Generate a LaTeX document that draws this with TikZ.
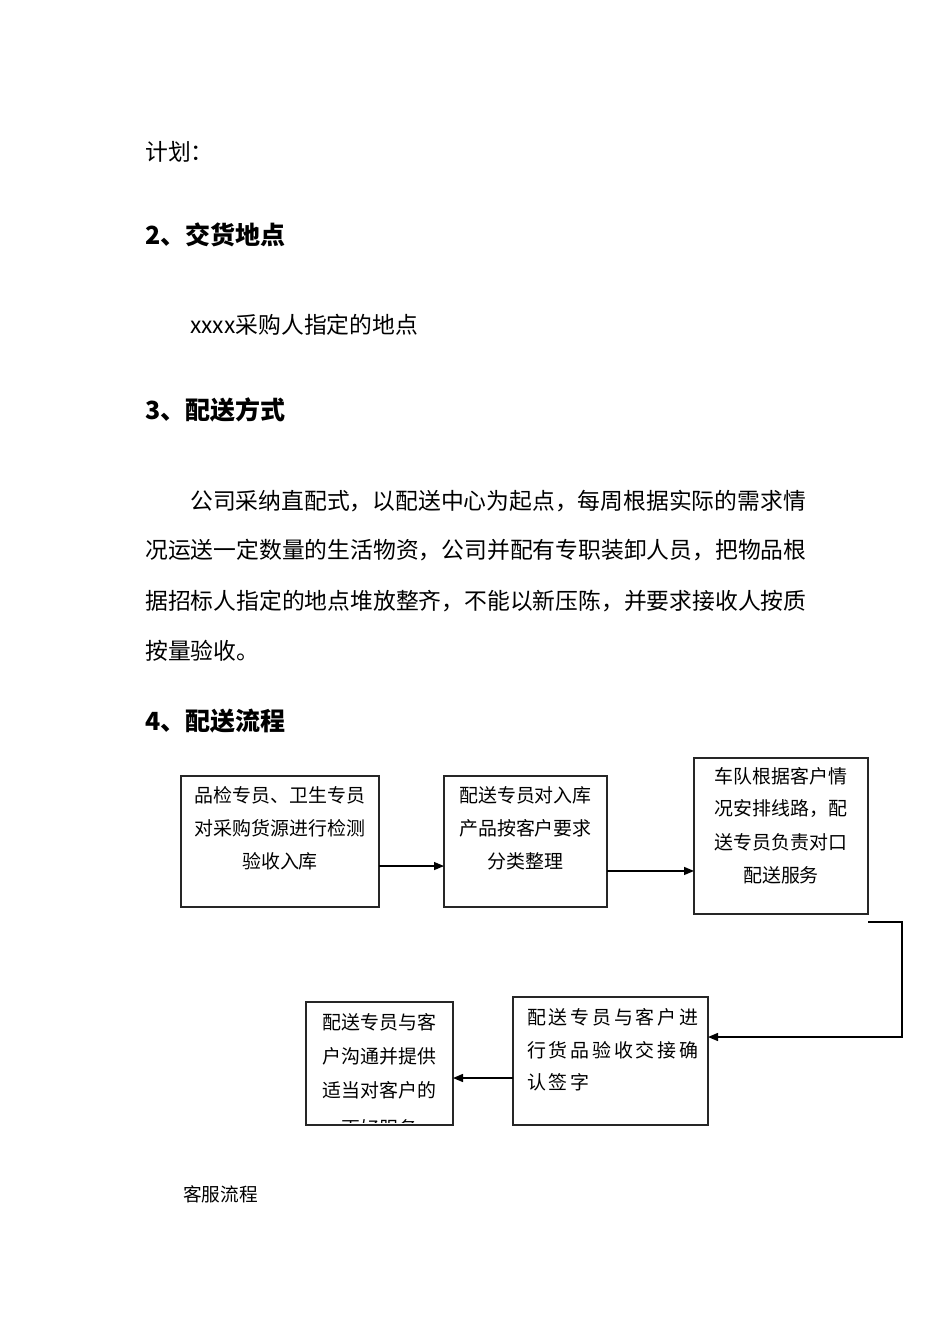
\documentclass[tikz,border=0pt]{standalone}
\usepackage{fontspec}
\newfontfamily\cjk{Noto Sans CJK SC}
\usetikzlibrary{arrows.meta,calc}
\newcommand\kk{\kern2.1pt}
\begin{document}
\begin{tikzpicture}[x=0.75pt,y=-0.75pt,
  body/.style={font=\cjk\fontsize{17.1pt}{20pt}\selectfont, anchor=west, inner sep=0pt},
  head/.style={font=\cjk\bfseries\fontsize{18.75pt}{22pt}\selectfont, anchor=west, inner sep=0pt},
  boxtxt/.style={font=\cjk\fontsize{14.2pt}{17pt}\selectfont, inner sep=0pt},
  small/.style={font=\cjk\fontsize{14pt}{17pt}\selectfont, anchor=west, inner sep=0pt},
  flowbox/.style={draw=black!85, line width=1.1pt, inner sep=0pt, outer sep=0pt},
  arr/.style={draw=black, line width=1pt, -{Triangle[length=7.5pt,width=6pt]}}]
\useasboundingbox (0,0) rectangle (950,1344);
\fill[white] (0,0) rectangle (950,1344);

% text
\node[body] (t0) at (145,152) {计划：};
\node[head] (h2) at (145,235) {2、交货地点};
\node[body] (t1) at (190,325) {xxxx采购人指定的地点};
\node[head] (h3) at (145,410) {3、配送方式};
\node[body] (p1) at (190,501) {公司采纳直配式，以配送中心为起点，每周根据实际的需求情};
\node[body] (p2) at (145,550) {况运送一定数量的生活物资，公司并配有专职装卸人员，把物品根};
\node[body] (p3) at (145,601) {据招标人指定的地点堆放整齐，不能以新压陈，并要求接收人按质};
\node[body] (p4) at (145,651) {按量验收。};
\node[head] (h4) at (145,721) {4、配送流程};
\node[small] (kf) at (183,1194) {客服流程};

% boxes
\node[flowbox, minimum width=148.5pt, minimum height=98.25pt] (b1) at (280,841.5) {};
\node[flowbox, minimum width=122.25pt, minimum height=98.25pt] (b2) at (525.5,841.5) {};
\node[flowbox, minimum width=130.5pt, minimum height=117pt] (b3) at (781,836) {};
\node[flowbox, minimum width=146.25pt, minimum height=96pt] (b4) at (610.5,1061) {};
\node[flowbox, minimum width=110.25pt, minimum height=92.25pt] (b5) at (379.5,1063.5) {};

% box texts
\node[boxtxt] (b1l1) at (280,795) {品检专员、卫生专员};
\node[boxtxt] (b1l2) at (280,828) {对采购货源进行检测};
\node[boxtxt] (b1l3) at (280,861) {验收入库};

\node[boxtxt] (b2l1) at (525.5,795) {配送专员对入库};
\node[boxtxt] (b2l2) at (525.5,828) {产品按客户要求};
\node[boxtxt] (b2l3) at (525.5,861) {分类整理};

\node[boxtxt] (b3l1) at (781,776) {车队根据客户情};
\node[boxtxt] (b3l2) at (781,809) {况安排线路，配};
\node[boxtxt] (b3l3) at (781,842) {送专员负责对口};
\node[boxtxt] (b3l4) at (781,875) {配送服务};

\node[boxtxt, anchor=west] (b4l1) at (527,1017) {配\kk 送\kk 专\kk 员\kk 与\kk 客\kk 户\kk 进};
\node[boxtxt, anchor=west] (b4l2) at (527,1050) {行\kk 货\kk 品\kk 验\kk 收\kk 交\kk 接\kk 确};
\node[boxtxt, anchor=west] (b4l3) at (527,1082) {认\kk 签\kk 字};

\node[boxtxt] (b5l1) at (379.5,1022) {配送专员与客};
\node[boxtxt] (b5l2) at (379.5,1056) {户沟通并提供};
\node[boxtxt] (b5l3) at (379.5,1090) {适当对客户的};
\begin{scope}
\clip (307,1003) rectangle (452,1122);
\node[boxtxt] (b5l4) at (379.5,1128.5) {更好服务};
\end{scope}

% connectors
\draw[arr] ([yshift=-18.4pt]b1.east) -- ([yshift=-18.4pt]b2.west);
\draw[arr] ([yshift=-22.1pt]b2.east) -- ([yshift=-22.1pt]b2.east -| b3.west);
\coordinate (s3) at (868,922);
\coordinate (t3) at (902,922);
\draw[arr] (s3) -- (t3) |- ([yshift=18pt]b4.east);
\draw[arr] ([yshift=-12.75pt]b4.west) -- ([yshift=-12.75pt]b4.west -| b5.east);
\end{tikzpicture}
\end{document}
